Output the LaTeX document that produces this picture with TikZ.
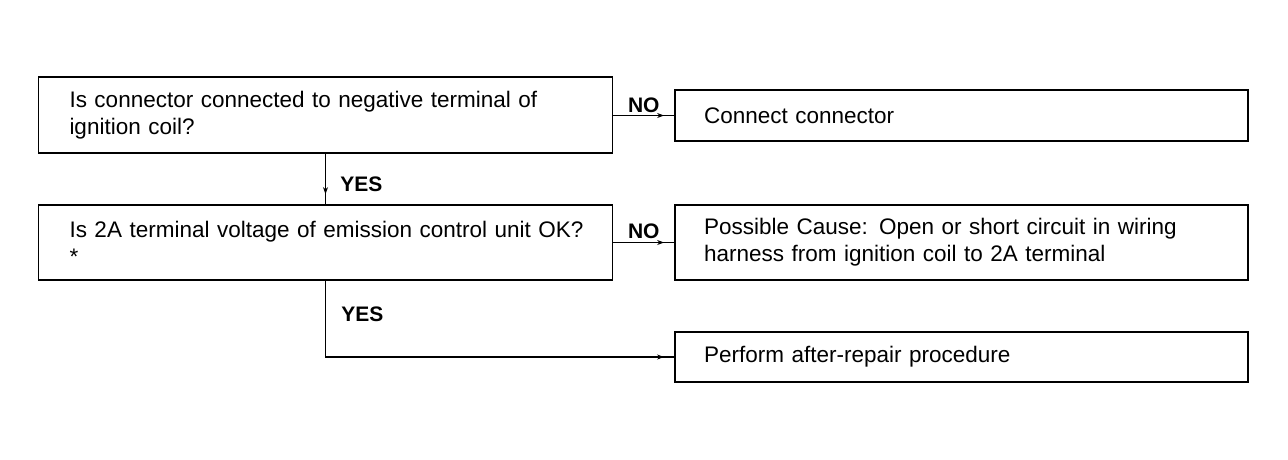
\documentclass[tikz,border=0pt]{standalone}
\usepackage{fontspec}
\setmainfont{Liberation Sans}
\usetikzlibrary{arrows.meta,decorations.markings}
\tikzset{
	stepbox/.style={draw,line width=1.8pt,minimum height=#1,inner xsep=31pt,
		text width=512pt,align=left,font=\fontsize{22.5}{27}\selectfont},
	stepbox/.default=75pt,
	fixbox/.style={stepbox=#1,text width=515pt,inner xsep=29pt},
	fixbox/.default=51pt,
	flowline/.style={line width=1.5pt,postaction={decorate},
		decoration={markings,mark=at position -10pt with {\arrow{Stealth[length=7pt,width=5pt]}}}},
	answer/.style={font=\fontsize{21}{25}\selectfont\bfseries,inner sep=2pt}
}
\begin{document}
\begin{tikzpicture}[x=1pt,y=-1pt]
	\useasboundingbox (0,0) rectangle (1288,459);
	% checks on the left
	\node[stepbox=76pt] (coil) at (325.5,115) {Is connector connected to negative terminal of\\ignition coil?};
	\node[stepbox] (volt) at (325.5,242.5) {\mbox{Is 2A terminal voltage of emission control unit OK?}\\{*}};
	% results on the right
	\node[fixbox] (connect) at (961.5,115.5) {Connect connector};
	\node[fixbox=75pt] (cause) at (961.5,242.5) {Possible Cause: Open or short circuit in wiring\\harness from ignition coil to 2A terminal};
	\node[fixbox=50pt] (repair) at (961.5,357) {Perform after-repair procedure};
	% connectors
	\draw[flowline] (coil.east |- connect.west) -- node[answer,above,pos=0.5]{NO} (connect.west);
	\draw[flowline] (volt.east) -- node[answer,above,pos=0.5,yshift=1pt]{NO} (cause.west);
	\draw[flowline] (coil.south) -- node[answer,right,pos=0.6,xshift=12pt]{YES} (volt.north);
	\draw[flowline] (volt.south) |- node[answer,right,pos=0.22,xshift=13pt]{YES} (repair.west);
\end{tikzpicture}
\end{document}
